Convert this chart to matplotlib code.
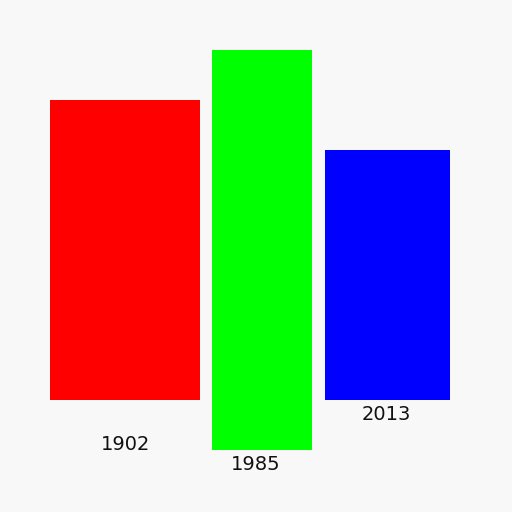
import matplotlib
matplotlib.use("Agg")
import matplotlib.pyplot as plt

# data
years = ["1902", "1985", "2013"]
heights = [300, 400, 250]
colors = ["#ff0000", "#00ff00", "#0000ff"]

# layout (pixel coordinates, y down)
lefts = [50, 212, 325]
widths = [150, 100, 125]
tops = [100, 50, 150]
label_xy = [(126, 445), (256, 465), (386, 415)]

fig = plt.figure(figsize=(5.12, 5.12), dpi=100, facecolor="#f8f8f8")
ax = fig.add_axes([0, 0, 1, 1])
ax.set_facecolor("#f8f8f8")
ax.set_xlim(0, 512)
ax.set_ylim(512, 0)
ax.axis("off")

ax.bar(lefts, heights, width=widths, bottom=tops, align="edge",
       color=colors, linewidth=0)
for year, (x, y) in zip(years, label_xy):
    ax.text(x, y, year, ha="center", va="center", fontsize=14,
            color="#111111")

fig.savefig("out.png", dpi=100, facecolor=fig.get_facecolor())
